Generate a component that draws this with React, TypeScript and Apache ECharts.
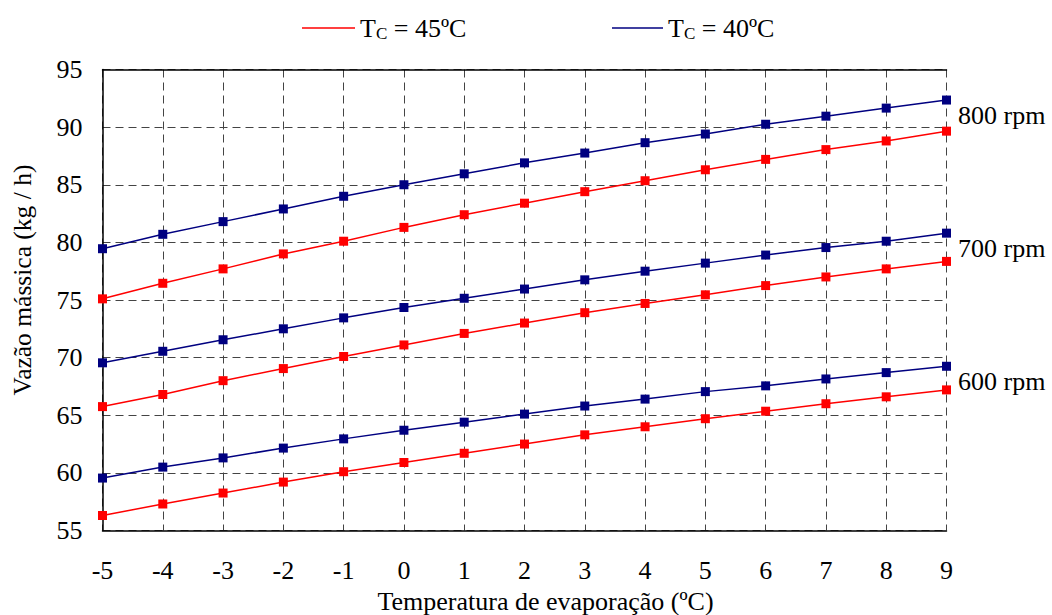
import React, { useEffect, useRef } from "react";
import * as echarts from "echarts";

const temps = [-5, -4, -3, -2, -1, 0, 1, 2, 3, 4, 5, 6, 7, 8, 9];

const red800 = [75.1, 76.45, 77.7, 79.0, 80.1, 81.3, 82.4, 83.4, 84.4, 85.35, 86.3, 87.2, 88.05, 88.8, 89.65];
const blue800 = [79.45, 80.7, 81.8, 82.9, 84.0, 85.0, 85.95, 86.9, 87.75, 88.65, 89.4, 90.25, 90.95, 91.65, 92.35];
const red700 = [65.75, 66.8, 68.0, 69.05, 70.1, 71.1, 72.1, 73.0, 73.9, 74.7, 75.45, 76.25, 77.0, 77.7, 78.35];
const blue700 = [69.55, 70.55, 71.55, 72.5, 73.45, 74.35, 75.15, 75.95, 76.75, 77.5, 78.2, 78.9, 79.55, 80.1, 80.8];
const red600 = [56.3, 57.3, 58.25, 59.2, 60.1, 60.9, 61.7, 62.5, 63.3, 64.0, 64.7, 65.35, 66.0, 66.6, 67.2];
const blue600 = [59.55, 60.5, 61.3, 62.15, 62.95, 63.7, 64.4, 65.1, 65.8, 66.4, 67.05, 67.55, 68.15, 68.7, 69.25];

const speedLabels = ["800 rpm", "700 rpm", "600 rpm"];
const legendNames = ["Tc45", "Tc40"];
const legendTexts: Record<string, string> = {
  Tc45: "{t|T}{s|C}{t| = 45ºC}",
  Tc40: "{t|T}{s|C}{t| = 40ºC}",
};

const RED = "#FF0000";
const BLUE = "#000080";
const FONT = '"Liberation Serif", "Times New Roman", serif';

function makeSeries(name: string, color: string, values: number[], label?: string) {
  return {
    name,
    type: "line",
    symbol: "rect",
    symbolSize: 9,
    lineStyle: { color, width: 1.5 },
    itemStyle: { color },
    z: color === BLUE ? 3 : 2,
    data: values.map((v, i) => {
      const item: any = { value: [temps[i], v] };
      if (label && i === values.length - 1) {
        item.label = {
          show: true,
          position: "right",
          formatter: label,
          offset: [2, 15],
          fontSize: 26,
          fontFamily: FONT,
          color: "#000",
        };
      }
      return item;
    }),
  };
}

const legendRich = {
  t: { fontSize: 26, fontFamily: FONT, color: "#000" },
  s: { fontSize: 17, fontFamily: FONT, color: "#000", padding: [10, 0, 0, 0] },
};

export default function App() {
  const ref = useRef<HTMLDivElement>(null);
  useEffect(() => {
    if (!ref.current) return;
    const chart = echarts.init(ref.current, undefined, { renderer: "svg" });
    const axisText = { fontSize: 26, fontFamily: FONT, color: "#000" };
    chart.setOption({
      animation: false,
      backgroundColor: "#fff",
      textStyle: { fontFamily: FONT },
      legend: [
        {
          data: [legendNames[0]],
          left: 302,
          top: 15,
          padding: 0,
          icon: "rect",
          itemWidth: 53,
          itemHeight: 1.5,
          formatter: (n: string) => legendTexts[n],
          textStyle: { rich: legendRich },
        },
        {
          data: [legendNames[1]],
          left: 612,
          top: 15,
          padding: 0,
          icon: "rect",
          itemWidth: 51,
          itemHeight: 1.5,
          formatter: (n: string) => legendTexts[n],
          textStyle: { rich: legendRich },
        },
      ],
      grid: {
        left: 102.5,
        right: 105.5,
        top: 69.5,
        bottom: 84.5,
        containLabel: false,
        outerBoundsMode: "none",
      },
      xAxis: [
        {
          type: "value",
          min: -5,
          max: 9,
          interval: 1,
          name: "Temperatura de evaporação (ºC)",
          nameLocation: "middle",
          nameGap: 46,
          nameTextStyle: { ...axisText, fontSize: 26, padding: [0, 0, 0, 42] },
          axisLine: { show: true, onZero: false, lineStyle: { color: "#000", width: 1.5 } },
          axisTick: { show: false },
          axisLabel: { ...axisText, margin: 27 },
          splitLine: { show: true, lineStyle: { color: "#444", type: [8, 5], width: 1 } },
        },
        {
          type: "value",
          position: "top",
          min: -5,
          max: 9,
          interval: 1,
          axisLine: { show: true, onZero: false, lineStyle: { color: "#000", width: 1.5 } },
          axisTick: { show: false },
          axisLabel: { show: false },
          splitLine: { show: false },
        },
      ],
      yAxis: {
        type: "value",
        min: 55,
        max: 95,
        interval: 5,
        name: "Vazão mássica (kg / h)",
        nameLocation: "middle",
        nameGap: 67,
        nameTextStyle: { ...axisText, fontSize: 25.5, padding: [0, 0, 0, 40] },
        axisLine: { show: true, onZero: false, lineStyle: { color: "#000", width: 1.5 } },
        axisTick: { show: false },
        axisLabel: { ...axisText, margin: 20 },
        splitLine: { show: true, lineStyle: { color: "#444", type: [8, 5], width: 1 } },
      },
      series: [
        makeSeries("Tc45", RED, red800),
        makeSeries("Tc40", BLUE, blue800, speedLabels[0]),
        makeSeries("Tc45", RED, red700),
        makeSeries("Tc40", BLUE, blue700, speedLabels[1]),
        makeSeries("Tc45", RED, red600),
        makeSeries("Tc40", BLUE, blue600, speedLabels[2]),
      ],
    });
    return () => chart.dispose();
  }, []);
  return (
    <div
      ref={ref}
      style={{ position: "fixed", left: 0, top: 0, width: 1052, height: 615, background: "#fff" }}
    />
  );
}
